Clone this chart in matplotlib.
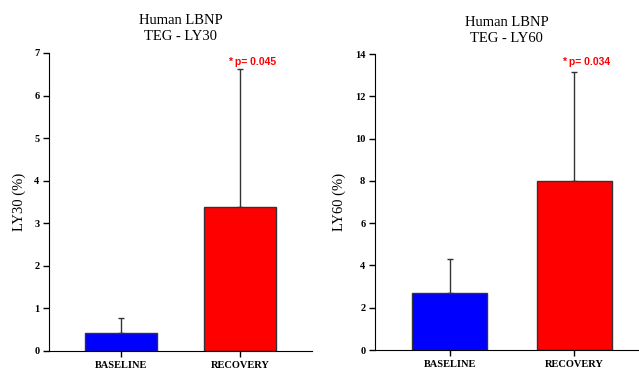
import numpy as np
import matplotlib.pyplot as plt

# dados
grupos = ["BASELINE", "RECOVERY"]
ly30 = [0.42, 3.38]
ly30_err = [0.36, 3.24]
ly60 = [2.70, 7.97]
ly60_err = [1.60, 5.20]
cores = ["#0000FF", "#FF0000"]

paineis = [
    ("Human LBNP\nTEG - LY30", "LY30 (%)", ly30, ly30_err, 7, 1, "* p= 0.045", 6.78),
    ("Human LBNP\nTEG - LY60", "LY60 (%)", ly60, ly60_err, 14, 2, "* p= 0.034", 13.6),
]

fig = plt.figure(figsize=(6.39, 3.73), dpi=100)
W, H = 639, 373
caixas = [(49, 312, 351, 53), (375, 638, 350, 54)]

serif = ["Liberation Serif", "DejaVu Serif"]

for (titulo, ylab, vals, errs, ymax, passo, ptxt, py), (x0, x1, yb, yt) in zip(paineis, caixas):
    ax = fig.add_axes([x0 / W, (H - yb) / H, (x1 - x0) / W, (yb - yt) / H])
    x = np.arange(len(grupos))
    ax.bar(x, vals, width=0.6, color=cores, edgecolor="#333333", linewidth=1, zorder=2)
    ax.errorbar(x, vals, yerr=[np.zeros(len(errs)), errs], fmt="none",
                ecolor="#333333", elinewidth=1, capsize=2.5, capthick=1, zorder=1)
    ax.set_xlim(-0.6, 1.6 if x1 < 400 else 1.51)
    ax.set_ylim(0, ymax)
    ax.set_yticks(np.arange(0, ymax + 0.1, passo))
    ax.set_xticks(x)
    ax.set_xticklabels(grupos, family=serif, fontweight="bold", fontsize=7.5)
    for t in ax.get_yticklabels():
        t.set_family(serif)
        t.set_fontweight("bold")
        t.set_fontsize(7.5)
    ax.spines["top"].set_visible(False)
    ax.spines["right"].set_visible(False)
    ax.tick_params(direction="out", length=4, width=1, pad=3)
    ax.set_ylabel(ylab, family=serif, fontsize=10.5, labelpad=6)
    ax.set_title(titulo, family=serif, fontsize=10.5, pad=9, linespacing=1.3)
    ax.text(1 - 0.1, py, ptxt, color="#FF0000", fontsize=7.5, fontweight="bold",
            family=["Liberation Sans", "DejaVu Sans"], ha="left", va="center")

plt.savefig("out.png", dpi=100)
